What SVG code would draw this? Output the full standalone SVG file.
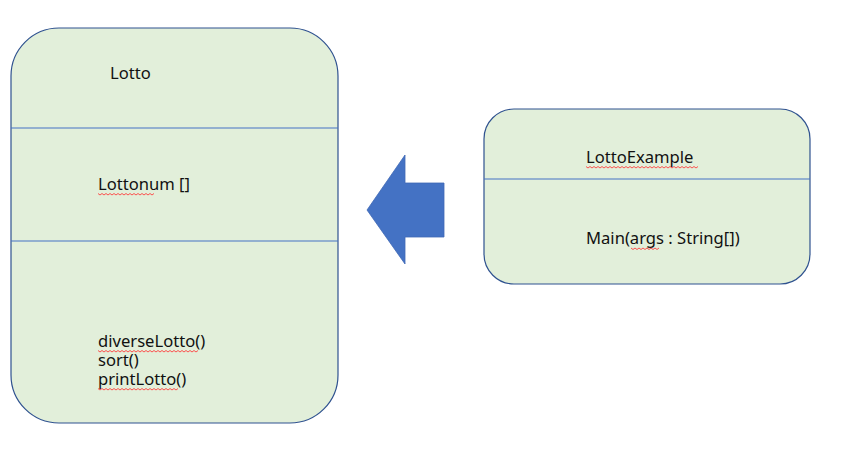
<svg xmlns="http://www.w3.org/2000/svg" width="862" height="473" viewBox="0 0 862 473">
<style>
.box{fill:#E2EFDA;stroke:#2F528F;stroke-width:1.2}
.div{stroke:#4472C4;stroke-width:1.2}
.t{font-family:"Noto Sans","Liberation Sans",sans-serif;font-size:16.6px;fill:#111}
.sq{fill:none;stroke:#FF4040;stroke-width:0.9}
</style>
<rect width="862" height="473" fill="#fff"/>
<g id="lotto">
<rect class="box" x="11" y="28" width="327" height="395" rx="48" ry="48"/>
<line class="div" x1="11" y1="128" x2="338" y2="128"/>
<line class="div" x1="11" y1="241" x2="338" y2="241"/>
<text class="t" x="110" y="79">Lotto</text>
<text class="t" x="98" y="190">Lottonum []</text>
<text class="t" x="98" y="347">diverseLotto()</text>
<text class="t" x="98" y="366">sort()</text>
<text class="t" x="98" y="385">printLotto()</text>
<path class="sq" d="M98,193.5 l2,1.5 l2,-1.5 l2,1.5 l2,-1.5 l2,1.5 l2,-1.5 l2,1.5 l2,-1.5 l2,1.5 l2,-1.5 l2,1.5 l2,-1.5 l2,1.5 l2,-1.5 l2,1.5 l2,-1.5 l2,1.5 l2,-1.5 l2,1.5 l2,-1.5 l2,1.5 l2,-1.5 l2,1.5 l2,-1.5 l2,1.5 l2,-1.5 l2,1.5 l2,-1.5"/>
<path class="sq" d="M98,350.5 l2,1.5 l2,-1.5 l2,1.5 l2,-1.5 l2,1.5 l2,-1.5 l2,1.5 l2,-1.5 l2,1.5 l2,-1.5 l2,1.5 l2,-1.5 l2,1.5 l2,-1.5 l2,1.5 l2,-1.5 l2,1.5 l2,-1.5 l2,1.5 l2,-1.5 l2,1.5 l2,-1.5 l2,1.5 l2,-1.5 l2,1.5 l2,-1.5 l2,1.5 l2,-1.5 l2,1.5 l2,-1.5 l2,1.5 l2,-1.5 l2,1.5 l2,-1.5 l2,1.5 l2,-1.5 l2,1.5 l2,-1.5 l2,1.5 l2,-1.5 l2,1.5 l2,-1.5 l2,1.5 l2,-1.5 l2,1.5 l2,-1.5 l2,1.5 l2,-1.5 l2,1.5 l2,-1.5"/>
<path class="sq" d="M98,388.5 l2,1.5 l2,-1.5 l2,1.5 l2,-1.5 l2,1.5 l2,-1.5 l2,1.5 l2,-1.5 l2,1.5 l2,-1.5 l2,1.5 l2,-1.5 l2,1.5 l2,-1.5 l2,1.5 l2,-1.5 l2,1.5 l2,-1.5 l2,1.5 l2,-1.5 l2,1.5 l2,-1.5 l2,1.5 l2,-1.5 l2,1.5 l2,-1.5 l2,1.5 l2,-1.5 l2,1.5 l2,-1.5 l2,1.5 l2,-1.5 l2,1.5 l2,-1.5 l2,1.5 l2,-1.5 l2,1.5 l2,-1.5 l2,1.5 l2,-1.5"/>
</g>
<g id="lottoExample">
<rect class="box" x="484" y="109" width="326" height="175" rx="30" ry="30"/>
<line class="div" x1="484" y1="179" x2="810" y2="179"/>
<text class="t" x="586" y="163">LottoExample</text>
<text class="t" x="586" y="244">Main(args : String[])</text>
<path class="sq" d="M586,166.5 l2,1.5 l2,-1.5 l2,1.5 l2,-1.5 l2,1.5 l2,-1.5 l2,1.5 l2,-1.5 l2,1.5 l2,-1.5 l2,1.5 l2,-1.5 l2,1.5 l2,-1.5 l2,1.5 l2,-1.5 l2,1.5 l2,-1.5 l2,1.5 l2,-1.5 l2,1.5 l2,-1.5 l2,1.5 l2,-1.5 l2,1.5 l2,-1.5 l2,1.5 l2,-1.5 l2,1.5 l2,-1.5 l2,1.5 l2,-1.5 l2,1.5 l2,-1.5 l2,1.5 l2,-1.5 l2,1.5 l2,-1.5 l2,1.5 l2,-1.5 l2,1.5 l2,-1.5 l2,1.5 l2,-1.5 l2,1.5 l2,-1.5 l2,1.5 l2,-1.5 l2,1.5 l2,-1.5 l2,1.5 l2,-1.5 l2,1.5 l2,-1.5 l2,1.5 l2,-1.5"/>
<path class="sq" d="M631,248 l2,1.5 l2,-1.5 l2,1.5 l2,-1.5 l2,1.5 l2,-1.5 l2,1.5 l2,-1.5 l2,1.5 l2,-1.5 l2,1.5 l2,-1.5 l2,1.5 l2,-1.5"/>
</g>
<g id="connectors">
<polygon points="367,210 405,155 405,183 444,183 444,237 405,237 405,264" fill="#4472C4" stroke="#3F68B5" stroke-width="0.8"/>
</g>
</svg>
